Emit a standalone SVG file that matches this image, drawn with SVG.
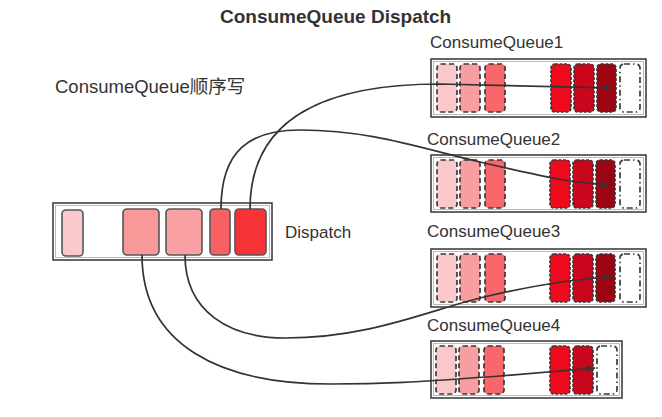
<svg xmlns="http://www.w3.org/2000/svg" width="662" height="417" viewBox="0 0 662 417">
<defs>
<style>
.t{font-family:"Liberation Sans","Noto Sans CJK SC",Arial,sans-serif;fill:#333}
.box{fill:#fff;stroke:#333;stroke-width:1.5}
.inner{fill:none;stroke:#bbb;stroke-width:1}
.d{stroke:#3a3a3a;stroke-width:1.7;stroke-dasharray:5,3}
.r{stroke:#3a3a3a;stroke-width:1.7;stroke-dasharray:3,1.5}
.w{fill:#fff;stroke:#3a3a3a;stroke-width:1.7;stroke-dasharray:6,3,1.5,3}
.s{stroke:#555;stroke-width:1.6}
.c1{fill:#fac8cb}.c2{fill:#f89ea1}.c3{fill:#f8676b}
.r1{fill:#ee0a1c}.r2{fill:#c9061b}.r3{fill:#9c0412}
.ln{fill:none;stroke:#333;stroke-width:1.7;marker-end:url(#ah)}
</style>
<marker id="ah" viewBox="0 0 10 6" refX="9" refY="3" markerWidth="10" markerHeight="6" markerUnits="userSpaceOnUse" orient="auto">
<path d="M0,0 L10,3 L0,6 Z" fill="#333"/>
</marker>
</defs>
<rect width="662" height="417" fill="#fff"/>
<text class="t" x="220" y="23" font-size="19" font-weight="bold">ConsumeQueue Dispatch</text>
<text class="t" x="55" y="93" font-size="18.5">ConsumeQueue顺序写</text>

<g id="dispatch">
<rect class="box" x="53" y="203" width="219" height="57"/>
<rect class="inner" x="55.5" y="205.5" width="214" height="52"/>
<rect class="s" x="62" y="210" width="21" height="46" rx="4" fill="#f9c9cb"/>
<rect class="s" x="123" y="209" width="36" height="46" rx="4" fill="#f99899"/>
<rect class="s" x="166" y="209" width="36" height="46" rx="4" fill="#f9a1a2"/>
<rect class="s" x="210" y="209" width="20" height="46" rx="4" fill="#f86163"/>
<rect class="s" x="235" y="209" width="31" height="46" rx="4" fill="#f63437"/>
<text class="t" x="285" y="238" font-size="17">Dispatch</text>
</g>

<g id="cq1">
<text class="t" x="430" y="48" font-size="17">ConsumeQueue1</text>
<rect class="box" x="431" y="59" width="215" height="58"/>
<rect class="inner" x="433.5" y="61.5" width="210" height="53"/>
<rect class="c1 d" x="437" y="64" width="20" height="48" rx="4"/>
<rect class="c2 d" x="460" y="64" width="20" height="48" rx="4"/>
<rect class="c3 d" x="485" y="64" width="20" height="48" rx="4"/>
<rect class="r1 r" x="551" y="64" width="20" height="48" rx="4"/>
<rect class="r2 r" x="574" y="64" width="20" height="48" rx="4"/>
<rect class="r3 r" x="597" y="64" width="19" height="48" rx="4"/>
<rect class="w" x="620" y="64" width="20" height="48" rx="4"/>
</g>

<g id="cq2">
<text class="t" x="427" y="145" font-size="17">ConsumeQueue2</text>
<rect class="box" x="431" y="155" width="215" height="57"/>
<rect class="inner" x="433.5" y="157.5" width="210" height="52"/>
<rect class="c1 d" x="437" y="160" width="20" height="48" rx="4"/>
<rect class="c2 d" x="460" y="160" width="20" height="48" rx="4"/>
<rect class="c3 d" x="485" y="160" width="20" height="48" rx="4"/>
<rect class="r1 r" x="550" y="160" width="20" height="48" rx="4"/>
<rect class="r2 r" x="573" y="160" width="20" height="48" rx="4"/>
<rect class="r3 r" x="596" y="160" width="19" height="48" rx="4"/>
<rect class="w" x="620" y="160" width="20" height="48" rx="4"/>
</g>

<g id="cq3">
<text class="t" x="427" y="237" font-size="17">ConsumeQueue3</text>
<rect class="box" x="431" y="249" width="215" height="58"/>
<rect class="inner" x="433.5" y="251.5" width="210" height="53"/>
<rect class="c1 d" x="437" y="254" width="20" height="48" rx="4"/>
<rect class="c2 d" x="460" y="254" width="20" height="48" rx="4"/>
<rect class="c3 d" x="485" y="254" width="20" height="48" rx="4"/>
<rect class="r1 r" x="550" y="254" width="20" height="48" rx="4"/>
<rect class="r2 r" x="573" y="254" width="20" height="48" rx="4"/>
<rect class="r3 r" x="596" y="254" width="19" height="48" rx="4"/>
<rect class="w" x="620" y="254" width="20" height="48" rx="4"/>
</g>

<g id="cq4">
<text class="t" x="427" y="331" font-size="17">ConsumeQueue4</text>
<rect class="box" x="431" y="341" width="191" height="57"/>
<rect class="inner" x="433.5" y="343.5" width="186" height="52"/>
<rect class="c1 d" x="436" y="346" width="20" height="48" rx="4"/>
<rect class="c2 d" x="459" y="346" width="20" height="48" rx="4"/>
<rect class="c3 d" x="484" y="346" width="20" height="48" rx="4"/>
<rect class="r1 r" x="550" y="346" width="20" height="48" rx="4"/>
<rect class="r2 r" x="573" y="346" width="20" height="48" rx="4"/>
<rect class="w" x="597" y="346" width="20" height="48" rx="4"/>
</g>

<g id="connectors">
<path class="ln" d="M250,209 C250,115 330,84 440,84 L612,88"/>
<path class="ln" d="M221,209 C221,150 250,130 300,130 C370,130 420,148 480,162 S570,183 610,185"/>
<path class="ln" d="M185,255 C185,312 230,338 285,338 C370,338 430,310 480,298 S570,279 612,277"/>
<path class="ln" d="M142,255 C142,345 220,384 330,384 C400,384 440,380 500,376 L595,368"/>
</g>
</svg>
